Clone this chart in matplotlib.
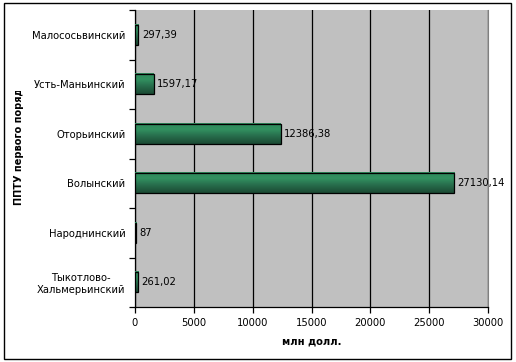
import matplotlib
matplotlib.use("Agg")
import matplotlib.pyplot as plt
import numpy as np
from matplotlib.patches import Rectangle
from matplotlib.transforms import Bbox
from matplotlib.colors import LinearSegmentedColormap

categories = ["Малососьвинский", "Усть-Маньинский", "Оторьинский", "Волынский",
              "Народнинский", "Тыкотлово-\nХальмерьинский"]
values = [297.39, 1597.17, 12386.38, 27130.14, 87, 261.02]
value_labels = ["297,39", "1597,17", "12386,38", "27130,14", "87", "261,02"]
xticks = [0, 5000, 10000, 15000, 20000, 25000, 30000]

plt.rcParams['font.family'] = ['DejaVu Sans']
W, H = 516, 362
fig = plt.figure(figsize=(W / 100, H / 100), dpi=100)
fig.patch.set_facecolor("white")

ax = fig.add_axes([135 / W, (H - 307) / H, (488 - 135) / W, (307 - 10) / H])
ax.set_facecolor("#C0C0C0")

n = len(categories)
ypos = np.arange(n)
bar_h = 0.41
cmap = LinearSegmentedColormap.from_list(
    "g", [(0.0, "#2F8A5C"), (0.3, "#329160"), (0.6, "#286F4D"), (1.0, "#1B4A33")])
grad = np.linspace(0, 1, 64).reshape(-1, 1)

for y, v in zip(ypos, values):
    ax.imshow(grad, aspect="auto", cmap=cmap, extent=(0, v, y + bar_h / 2, y - bar_h / 2),
              origin="upper", zorder=3, interpolation="bilinear")
bars = ax.barh(ypos, values, height=bar_h, facecolor="none", edgecolor="black",
               linewidth=0.9, zorder=4)
for y, v, lab in zip(ypos, values, value_labels):
    ax.annotate(lab, (v, y), xytext=(2.5, 0), textcoords="offset points",
                va="center", ha="left", fontsize=7.2, zorder=5)

ax.set_xlim(0, 30000)
ax.set_ylim(n - 0.5, -0.5)
ax.set_xticks(xticks)
ax.set_xticklabels([str(t) for t in xticks], fontsize=7.2)
ax.set_yticks(ypos)
ax.set_yticklabels(categories, fontsize=7.2)
for lbl in ax.get_yticklabels():
    lbl.set_multialignment("center")
ax.tick_params(axis="y", which="major", length=0, pad=7)
ax.set_yticks(np.arange(-0.5, n, 1.0), minor=True)
ax.tick_params(axis="y", which="minor", length=4, width=0.9, direction="out")
ax.tick_params(axis="x", length=4, width=0.9, direction="out", pad=4)
ax.xaxis.grid(True, color="black", linewidth=0.9, zorder=1)
ax.set_axisbelow(True)
ax.spines["right"].set_color("#808080")
ax.spines["right"].set_linewidth(0.8)
ax.spines["top"].set_visible(False)
for s in ["left", "bottom"]:
    ax.spines[s].set_color("black")
    ax.spines[s].set_linewidth(0.9)

fig.text((135 + 488) / 2 / W, (H - 342) / H, "млн долл.", fontsize=7.2,
         fontweight="bold", ha="center", va="center")
yl = fig.text(19 / W, (H - 205) / H, "ППТУ первого порядка", fontsize=7.0,
              fontweight="bold", rotation=90, ha="center", va="bottom")
yl.set_clip_box(Bbox.from_extents(0, 0, W, H - 91))
yl.set_clip_on(True)

fig.patches.append(Rectangle((4 / W, (H - 359) / H), (511 - 4) / W, (359 - 3) / H,
                             transform=fig.transFigure, fill=False, edgecolor="black",
                             linewidth=1.0))

fig.savefig("out.png", dpi=100)
